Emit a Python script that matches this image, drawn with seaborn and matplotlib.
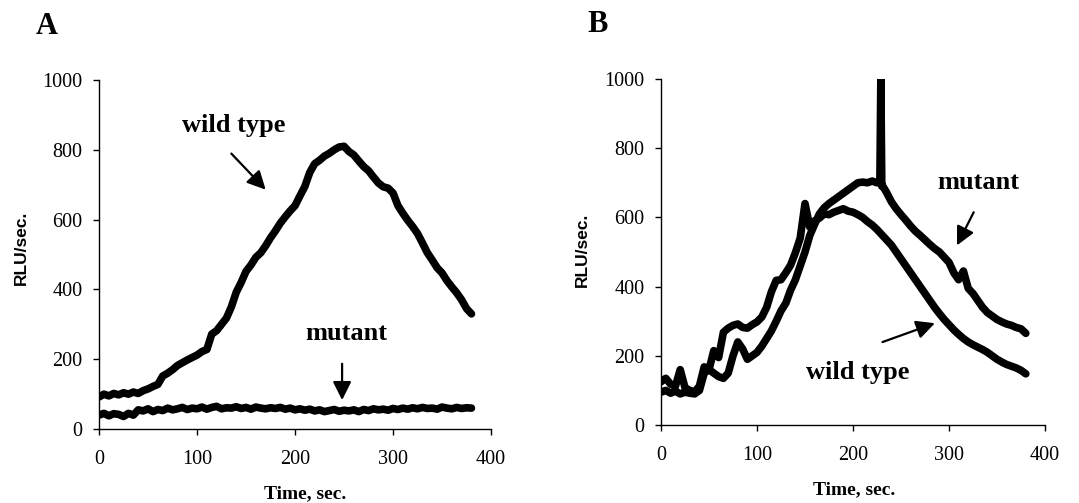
import numpy             as np
import pandas            as pd
import seaborn           as sns
import matplotlib.pyplot as plt


# time grid, sec
time = list(range(0, 385, 5))

# panel A, RLU/sec
a_wild = [92, 100, 95, 102, 98, 104, 100, 106, 102, 110, 115, 122, 128, 152, 160, 170,
          182, 190, 198, 205, 212, 222, 228, 272, 282, 300, 318, 350, 392, 420, 452, 470,
          492, 505, 525, 548, 568, 590, 608, 625, 640, 668, 695, 735, 760, 770, 782, 790,
          800, 808, 810, 795, 785, 768, 752, 740, 722, 705, 694, 690, 676, 640, 618, 598,
          580, 560, 533, 505, 484, 462, 447, 425, 407, 390, 370, 345, 330]
a_mutant = [40, 45, 38, 44, 42, 36, 45, 40,
            55,
            52, 58, 50, 56, 53, 60, 55, 58, 62, 56,
            60, 58, 63, 57, 62, 65, 58, 61, 60, 64, 59, 62, 57, 63, 60, 58, 61, 59, 62, 57, 60, 55,
            58, 54, 57, 52, 55, 50, 53, 56, 51, 54, 52, 55, 50, 56, 53, 58, 55, 57, 54, 59,
            56, 60, 57, 61, 58, 62, 59, 60, 57, 63, 60, 58, 62, 59, 61, 60]

# panel B, RLU/sec
b_wild = [125, 135, 118, 112, 160, 108, 100, 96, 112, 168, 160, 215, 195, 268, 280, 288,
          292, 282, 280, 290, 298, 312, 340, 385, 418, 420, 440, 462, 498, 540, 640, 572,
          590, 598, 610, 608, 615, 620, 625, 618, 615, 608, 600, 588, 578, 565, 550, 535,
          520, 500, 480, 460, 440, 420, 400, 380, 360, 340, 322, 305, 290, 275, 262, 250,
          240, 232, 225, 218, 210, 200, 190, 182, 175, 170, 165, 158, 148]
b_mutant = [95, 100, 92, 98, 90, 95, 92, 90, 100, 150, 160, 150, 140, 135, 150, 200,
            240, 220, 190, 200, 210, 228, 250, 272, 300, 330, 352, 390, 420, 460, 500, 548,
            580, 610, 628, 640, 650, 660, 670, 680, 690, 700, 702, 700, 705, 700, 690, 672,
            645, 625, 608, 592, 575, 560, 548, 535, 522, 510, 500, 485, 470, 440, 420, 445,
            395, 380, 360, 340, 325, 315, 305, 298, 292, 288, 282, 278, 265]
b_spike_time = [228, 229, 230]
b_spike_rlu  = [705, 1000, 695]


def make_frame(values, extra_t=(), extra_v=()):
    df = pd.DataFrame({"t": list(time) + list(extra_t), "v": list(values) + list(extra_v)})
    return df.sort_values("t")


sns.set_theme(style="ticks")
plt.rcParams["font.family"] = ["Liberation Serif", "DejaVu Serif"]
plt.rcParams["text.color"] = "black"
plt.rcParams["axes.labelcolor"] = "black"

fig = plt.figure(figsize=(10.79, 5.03), dpi=100)
ax_a = fig.add_axes([0.0918, 0.147, 0.3633, 0.694])
ax_b = fig.add_axes([0.6126, 0.155, 0.3559, 0.688])

line_kw = dict(color="black", linewidth=5.5, estimator=None, sort=False)
sns.lineplot(data=make_frame(a_wild), x="t", y="v", ax=ax_a, **line_kw)
sns.lineplot(data=make_frame(a_mutant), x="t", y="v", ax=ax_a, **line_kw)
sns.lineplot(data=make_frame(b_wild), x="t", y="v", ax=ax_b, **line_kw)
sns.lineplot(data=make_frame(b_mutant, b_spike_time, b_spike_rlu), x="t", y="v", ax=ax_b, **line_kw)

label_pos = {ax_a: ((0.526, -0.186), (-0.199, 0.52)),
             ax_b: ((0.503, -0.188), (-0.206, 0.506))}

for ax in (ax_a, ax_b):
    ax.set_xlim(0, 400)
    ax.set_ylim(0, 1000)
    ax.set_xticks([0, 100, 200, 300, 400])
    ax.set_yticks([0, 200, 400, 600, 800, 1000])
    ax.tick_params(labelsize=14.5, colors="black", length=4, width=1, direction="out")
    ax.tick_params(axis="x", pad=11)
    ax.tick_params(axis="y", pad=8)
    for s in ("top", "right"):
        ax.spines[s].set_visible(False)
    for s in ("left", "bottom"):
        ax.spines[s].set_color("black")
        ax.spines[s].set_linewidth(1)
    ax.set_xlabel("Time, sec.", fontsize=14, fontweight="bold", va="center", color="black")
    ax.set_ylabel("RLU/sec.", fontsize=12.5, fontweight="bold", va="center", color="black",
                  family=["Liberation Sans", "DejaVu Sans"])
    (xl, yl) = label_pos[ax]
    ax.xaxis.set_label_coords(*xl)
    ax.yaxis.set_label_coords(*yl)
    ax.patch.set_alpha(0)

arrow = dict(arrowstyle="-|>", mutation_scale=28, lw=1.6, color="black")
text_kw = dict(fontsize=19, fontweight="bold", ha="center", va="center", color="black")

ax_a.text(137, 871, "wild type", **text_kw)
ax_a.annotate("", xy=(172, 680), xytext=(133, 795), arrowprops=arrow)
ax_a.text(252, 275, "mutant", **text_kw)
ax_a.annotate("", xy=(248, 75), xytext=(248, 195), arrowprops=arrow)

ax_b.text(331, 702, "mutant", **text_kw)
ax_b.annotate("", xy=(307, 512), xytext=(327, 622), arrowprops=arrow)
ax_b.text(205, 153, "wild type", **text_kw)
ax_b.annotate("", xy=(288, 297), xytext=(228, 237), arrowprops=arrow)

fig.text(47 / 1079, 1 - 26 / 503, "A", fontsize=22, fontweight="bold", ha="center", va="center", color="black")
fig.text(598 / 1079, 1 - 25 / 503, "B", fontsize=22, fontweight="bold", ha="center", va="center", color="black")

fig.savefig("out.png", dpi=100)
